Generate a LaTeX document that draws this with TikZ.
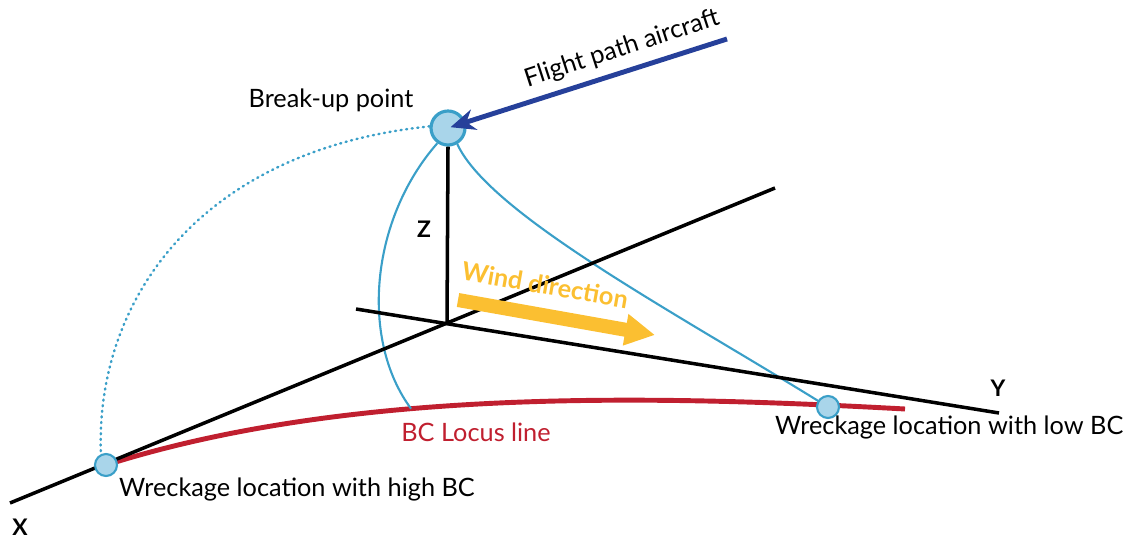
\documentclass[tikz,border=0pt]{standalone}
\usepackage{fontspec}
\setmainfont{Lato}
\usepackage{xcolor}
\usepackage{tikz}
\usetikzlibrary{arrows.meta,positioning,calc,backgrounds}
\definecolor{skyline}{HTML}{3A9FC8}
\definecolor{skyfill}{HTML}{A9D5EA}
\definecolor{flightblue}{HTML}{26409A}
\definecolor{locusred}{HTML}{C01F2F}
\definecolor{windgold}{HTML}{FBBF31}

\begin{document}
\begin{tikzpicture}[x=0.02cm,y=-0.02cm,every node/.style={font=\fontsize{14.4}{17}\selectfont},
    axis/.style={line width=2pt},
    spot/.style={circle,draw=skyline,fill=skyfill,line width=1.2pt,minimum size=0.44cm,inner sep=0pt},
    trace/.style={draw=skyline,line width=1.2pt},
    axlabel/.style={font=\fontsize{13}{15}\selectfont\bfseries}]
  \useasboundingbox (0,0) rectangle (1124,540);
  % axes through the origin below the break-up point
  \coordinate (O) at (447,324);
  \coordinate (xa) at (10,503);
  \coordinate (xb) at (775,188);
  \coordinate (ya) at (356,309);
  \coordinate (yb) at (999,413);
  \draw[axis] (xa) -- (xb);
  \draw[axis] (ya) -- (yb);
  \node[spot,minimum size=0.68cm,line width=1.8pt] (bup) at (448,128) {};
  \node[spot] (hi) at (106,465) {};
  \node[spot] (lo) at (828,407) {};
  \draw[axis] (bup.south) -- (O);
  \begin{scope}[on background layer]
    % locus of wreckage positions
    \draw[locusred,line width=2.8pt] (hi.center) .. controls (350,388) and (650,395) .. (905,409)
      coordinate (locend) coordinate[pos=0.39] (lc);
    \draw[trace] (bup.235) .. controls (370,220) and (360,340) .. (lc);
    \draw[trace] (bup.300) .. controls (490,215) and (680,315) .. (lo.center);
  \end{scope}
  \draw[trace,line cap=round,dash pattern=on 0.6pt off 2.6pt,line width=1.4pt]
    (bup.175) .. controls (200,150) and (95,300) .. (hi.115);
  % flight path and wind
  \coordinate (fstart) at (727,39);
  \draw[flightblue,line width=2.8pt,-{Stealth[length=14pt,width=12pt]},shorten >=1.5pt] (fstart) -- (bup.center);
  \node[rotate=18] (flbl) at (622,49) {Flight path aircraft};
  \coordinate (wa) at (458,300);
  \coordinate (wb) at (655,335);
  \draw[windgold,line width=8pt,-{Triangle[length=17pt,width=17pt]}] (wa) -- (wb);
  \node[rotate=-10,text=windgold,font=\fontsize{14.4}{17}\selectfont\bfseries] (wlbl) at (545,285) {Wind direction};
  % labels
  \node (bulbl) at (331,100) {Break-up point};
  \node[axlabel] (zlbl) at (424,229) {Z};
  \node[axlabel] (xlbl) at (20,527) {X};
  \node[axlabel] (ylbl) at (998,388) {Y};
  \node[text=locusred] (loclbl) at (476,432) {BC Locus line};
  \node[anchor=west] (hilbl) at (113,489) {Wreckage location with high BC};
  \node[anchor=west] (lolbl) at (769,427) {Wreckage location with low BC};
\end{tikzpicture}
\end{document}
